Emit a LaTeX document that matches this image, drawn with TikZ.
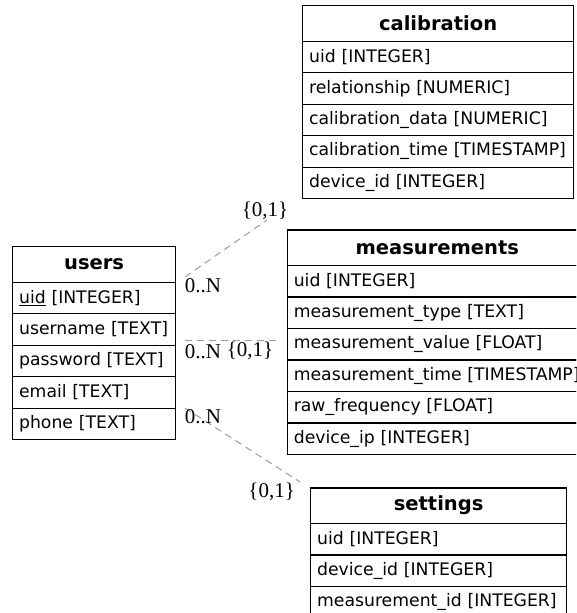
\documentclass[tikz,border=0pt]{standalone}
\usepackage{fontspec}
\setmainfont{Liberation Serif}
\newfontfamily\tabfont{DejaVu Sans}
\usetikzlibrary{calc}

\tikzset{
  tblcell/.style={draw=black, line width=1.2pt, rectangle, inner xsep=6.5pt,
    inner ysep=0pt, anchor=north west, fill=white},
  tblhead/.style={tblcell, align=center, minimum height=35.5pt,
    font=\tabfont\bfseries\fontsize{19.5}{22}\selectfont},
  tblrow/.style={tblcell, align=left, minimum height=31.5pt,
    font=\tabfont\fontsize{17.25}{20}\selectfont},
  rel/.style={draw=black!38, line width=1pt, dash pattern=on 7pt off 5pt},
  card/.style={font=\fontsize{21}{23}\selectfont, inner sep=0pt},
}

% \erdtable{name}{left}{top}{width}{title}{rows}
\newcommand{\erdtable}[6]{%
  \pgfmathsetlengthmacro{\erdtw}{#4-13}%
  \node[tblhead, text width=\erdtw] (#1) at (#2,#3) {#5};
  \foreach \rowtext [count=\i] in {#6} {
    \node[tblrow, text width=\erdtw] (#1-\i) at ({#2},{#3+35.5+(\i-1)*31.5})
      {\hbox to \erdtw{\rowtext\hss}};
  }
}

\begin{document}
\begin{tikzpicture}[x=1pt, y=-1pt]
  \useasboundingbox[fill=white] (0,0) rectangle (576,613);
  \clip (0,0) rectangle (576,613);

  % relationship lines (drawn first, tables on top)
  \coordinate (e1u) at (185,277);
  \coordinate (e1c) at (267,220);
  \coordinate (e2u) at (185,340.7);
  \coordinate (e2m) at (276,340.7);
  \coordinate (e3u) at (185,408);
  \coordinate (e3s) at (300,482);
  \draw[rel] (e1u) -- (e1c);
  \draw[rel] (e2u) -- (e2m);
  \draw[rel] (e3u) -- (e3s);

  % tables
  \erdtable{users}{12}{246}{163}{users}{%
    \underline{uid} [INTEGER], username [TEXT], password [TEXT],
    email [TEXT], phone [TEXT]}
  \erdtable{calibration}{302}{5}{271}{calibration}{%
    uid [INTEGER], relationship [NUMERIC], calibration\_data [NUMERIC],
    calibration\_time [TIMESTAMP], device\_id [INTEGER]}
  \erdtable{measurements}{286.7}{229.3}{300}{measurements}{%
    uid [INTEGER], measurement\_type [TEXT], measurement\_value [FLOAT],
    measurement\_time [TIMESTAMP], raw\_frequency [FLOAT], device\_ip [INTEGER]}
  \erdtable{settings}{310}{487.3}{256}{settings}{%
    uid [INTEGER], device\_id [INTEGER], measurement\_id [INTEGER]}

  % cardinalities
  \node[card] (c1u) at (203,286) {0..N};
  \node[card] (c1c) at (265,211) {\{0,1\}};
  \node[card] (c2u) at (203,351.5) {0..N};
  \node[card] (c2m) at (250,351) {\{0,1\}};
  \node[card] (c3u) at (203,416.7) {0..N};
  \node[card] (c3s) at (271.7,491.7) {\{0,1\}};
\end{tikzpicture}
\end{document}
